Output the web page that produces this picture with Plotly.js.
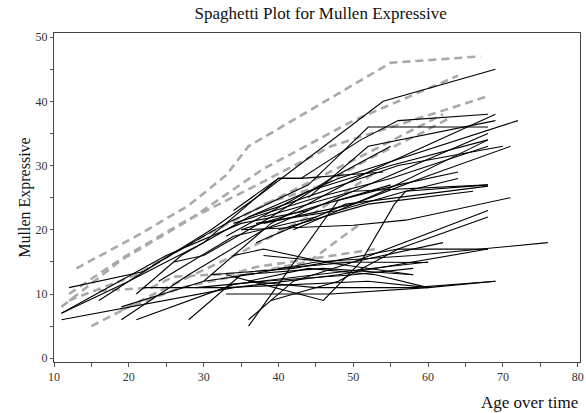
<!DOCTYPE html>
<html>
<head>
<meta charset="utf-8">
<script src="https://cdn.plot.ly/plotly-3.0.1.min.js"></script>
<style>html,body{margin:0;padding:0;background:#fff;}#chart{width:586px;height:413px;}</style>
</head>
<body>
<div id="chart"></div>
<script>
// Solid (black) subject trajectories: ages and Mullen Expressive scores
const solidAges = [
  [12,22,31,37,54,69],
  [11,20,30,40,43,51,56,68],
  [11,34,48,68],
  [16,24,33,44,52,68],
  [19,30,39,52,69],
  [21,27,36,48,72],
  [22,33,52,60],
  [19,28,38,50,68],
  [21,34,45,60],
  [28,35,46,58],
  [33,47,60,69],
  [36,48,55],
  [36,42,50,68],
  [33,46,51,55.5,57,68],
  [30,36,45,58,76],
  [31,42,56,68],
  [29,38,50,58],
  [36,45,58,69],
  [35,50,57,71],
  [34,40,43,54],
  [33,44,55,68],
  [34,45,55,68],
  [36,46,56,70],
  [38,50,59,71],
  [35,46,56,64],
  [37,48,57,64],
  [38,50,68],
  [40,52,66],
  [37,49,68],
  [42,54,68],
  [40,50,62],
  [38,47,60],
  [34,38,46,58],
  [39,48,56,68],
  [36,44,53,60],
  [44,52,69],
  [26,30,39,47,55],
  [24,34,45],
  [11,25,35,44]
];
const solidScores = [
  [11,13.5,20,25,40,45],
  [7,12,18,28,28,34,37,38],
  [6,11,13,17],
  [9,15,21,27,36,36],
  [8,12,21,29,38],
  [10,16,22,28,37],
  [11,11,12,11],
  [6,13,20,26,35],
  [6,11.5,13,15],
  [6,13,14,13],
  [10,10,11,12],
  [5,24.6,27],
  [6,12,15,23],
  [13,9,15,24,26,27],
  [12,13,15,16,18],
  [13,14,17,17],
  [11,12,13,14],
  [12,11,11,12],
  [20,20.7,21.5,25],
  [23,28,28,29],
  [19,26,30,34],
  [21,25,28,33],
  [22,26,30,33],
  [21,24,28,33],
  [20,24,27,29],
  [21,23,26,28],
  [22,26,27],
  [20,24,26],
  [18,24,26.8],
  [20,26,34],
  [14,15,18],
  [16,15,14.9],
  [16,17,15,13],
  [9,12,17,22],
  [12,14,13,11],
  [25,33,37],
  [15,16,22,28,33],
  [12,19,22],
  [7,16,21,23]
];
// Dashed (gray) subject trajectories
const dashedAges = [
  [13,21,28,33,36,55,67],
  [11,19,28,38,50,64],
  [12,19,27,38,47,68],
  [12,21,30,40,52,62],
  [15,25,35,44,53],
  [16,23,26,34,37,53],
  [19,27,35,44,51],
  [38,46,52,59,63]
];
const dashedScores = [
  [14,19,23.8,28.5,33,46,47],
  [8,15.3,21.5,29.5,37,44],
  [10,15.5,21,27.5,33,40.8],
  [9,13,19,25,32,38],
  [5,11,16.5,22,29],
  [10.5,11,12.7,13.2,14.2,17],
  [7.5,11,13,15,21],
  [24,27,31,35,37.5]
];
const xTickVals = [10,20,30,40,50,60,70,80];
const yTickVals = [0,10,20,30,40,50];

const traces = [];
dashedAges.forEach((a, i) => traces.push({
  x: a, y: dashedScores[i], type: 'scatter', mode: 'lines',
  line: {color: '#a9a9a9', width: 2.6, dash: '8px,5px'},
  showlegend: false, hoverinfo: 'skip'
}));
solidAges.forEach((a, i) => traces.push({
  x: a, y: solidScores[i], type: 'scatter', mode: 'lines',
  line: {color: '#000', width: 1.1},
  showlegend: false, hoverinfo: 'skip'
}));

const serif = '"Liberation Serif", "DejaVu Serif", serif';
const layout = {
  width: 586, height: 413,
  margin: {l: 53.5, r: 6, t: 32.7, b: 51},
  paper_bgcolor: '#fff', plot_bgcolor: '#fff',
  font: {family: serif, color: '#333', size: 12},
  title: {text: 'Spaghetti Plot for Mullen Expressive', font: {family: serif, size: 17, color: '#111'},
          x: 0.507, xanchor: 'center', y: 0.968, yanchor: 'middle', xref: 'paper'},
  xaxis: {
    range: [10, 80.3], tickvals: xTickVals, ticks: 'outside', ticklen: 4, tickcolor: '#555',
    showline: true, linecolor: '#444', linewidth: 1, mirror: true, showgrid: false, zeroline: false,
    minor: {dtick: 5, tick0: 0, ticks: 'outside', ticklen: 4, tickcolor: '#555', showgrid: false},
    tickfont: {family: serif, size: 12, color: '#333'}
  },
  yaxis: {
    range: [-0.58, 50.64], tickvals: yTickVals, ticks: 'outside', ticklen: 3, tickcolor: '#555',
    showline: true, linecolor: '#444', linewidth: 1, mirror: true, showgrid: false, zeroline: false,
    minor: {dtick: 5, tick0: 0, ticks: 'outside', ticklen: 3, tickcolor: '#555', showgrid: false},
    tickfont: {family: serif, size: 12, color: '#333'},
    title: {text: 'Mullen Expressive', font: {family: serif, size: 16, color: '#111'}, standoff: 0}
  },
  annotations: [{
    text: 'Age over time', xref: 'paper', yref: 'paper', x: 1.0, xanchor: 'right',
    y: -0.1245, yanchor: 'middle', showarrow: false, font: {family: serif, size: 17, color: '#111'}
  }]
};
Plotly.newPlot('chart', traces, layout, {displayModeBar: false, staticPlot: true});
</script>
</body>
</html>
